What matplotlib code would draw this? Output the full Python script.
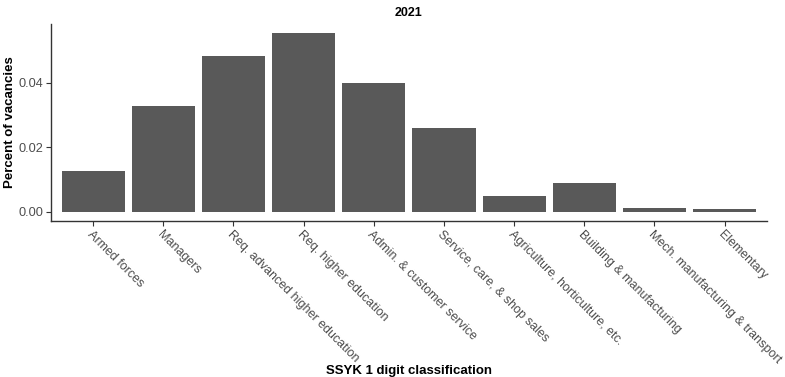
import matplotlib.pyplot as plt
import numpy as np

plt.rcParams['font.family'] = ['Liberation Sans', 'DejaVu Sans']

# Share of vacancies by SSYK 1-digit group, 2021
groups = ["Armed forces", "Managers", "Req. advanced higher education",
          "Req. higher education", "Admin. & customer service",
          "Service, care, & shop sales", "Agriculture, horticulture, etc.",
          "Building & manufacturing", "Mech. manufacturing & transport",
          "Elementary"]
share = [0.0126, 0.0328, 0.0484, 0.0555, 0.0400,
         0.0260, 0.0049, 0.0089, 0.0011, 0.0008]

fig = plt.figure(figsize=(7.85, 3.77), dpi=100)
ax = fig.add_axes([0.065, 0.415, 0.9117, 0.521])

x = np.arange(1, len(groups) + 1)
ax.bar(x, share, width=0.9, color='#595959')

ymax = max(share)
ax.set_xlim(0.4, len(groups) + 0.6)
ax.set_ylim(-0.05 * ymax, 1.05 * ymax)
ax.set_yticks([0.0, 0.02, 0.04])
ax.set_yticklabels(["0.00", "0.02", "0.04"])
ax.set_xticks(x)
ax.set_xticklabels(groups, rotation=-45, ha='left', va='top',
                   rotation_mode='anchor')

for s in ['top', 'right']:
    ax.spines[s].set_visible(False)
for s in ['left', 'bottom']:
    ax.spines[s].set_color('#333333')
    ax.spines[s].set_linewidth(1.0)
ax.tick_params(axis='both', colors='#333333', length=3.5, width=0.8,
               labelsize=9, labelcolor='#4D4D4D', pad=2)
ax.tick_params(axis='y', labelsize=9.2)

ax.set_title("2021", fontsize=9, fontweight='bold', pad=6)
ax.set_ylabel("Percent of vacancies", fontsize=9.5, fontweight='bold')
ax.yaxis.set_label_coords(-0.049, 0.5)
fig.text(0.521, 0.0, "SSYK 1 digit classification", ha='center',
         va='bottom', fontsize=9.5, fontweight='bold')

fig.savefig("out.png", dpi=100)
